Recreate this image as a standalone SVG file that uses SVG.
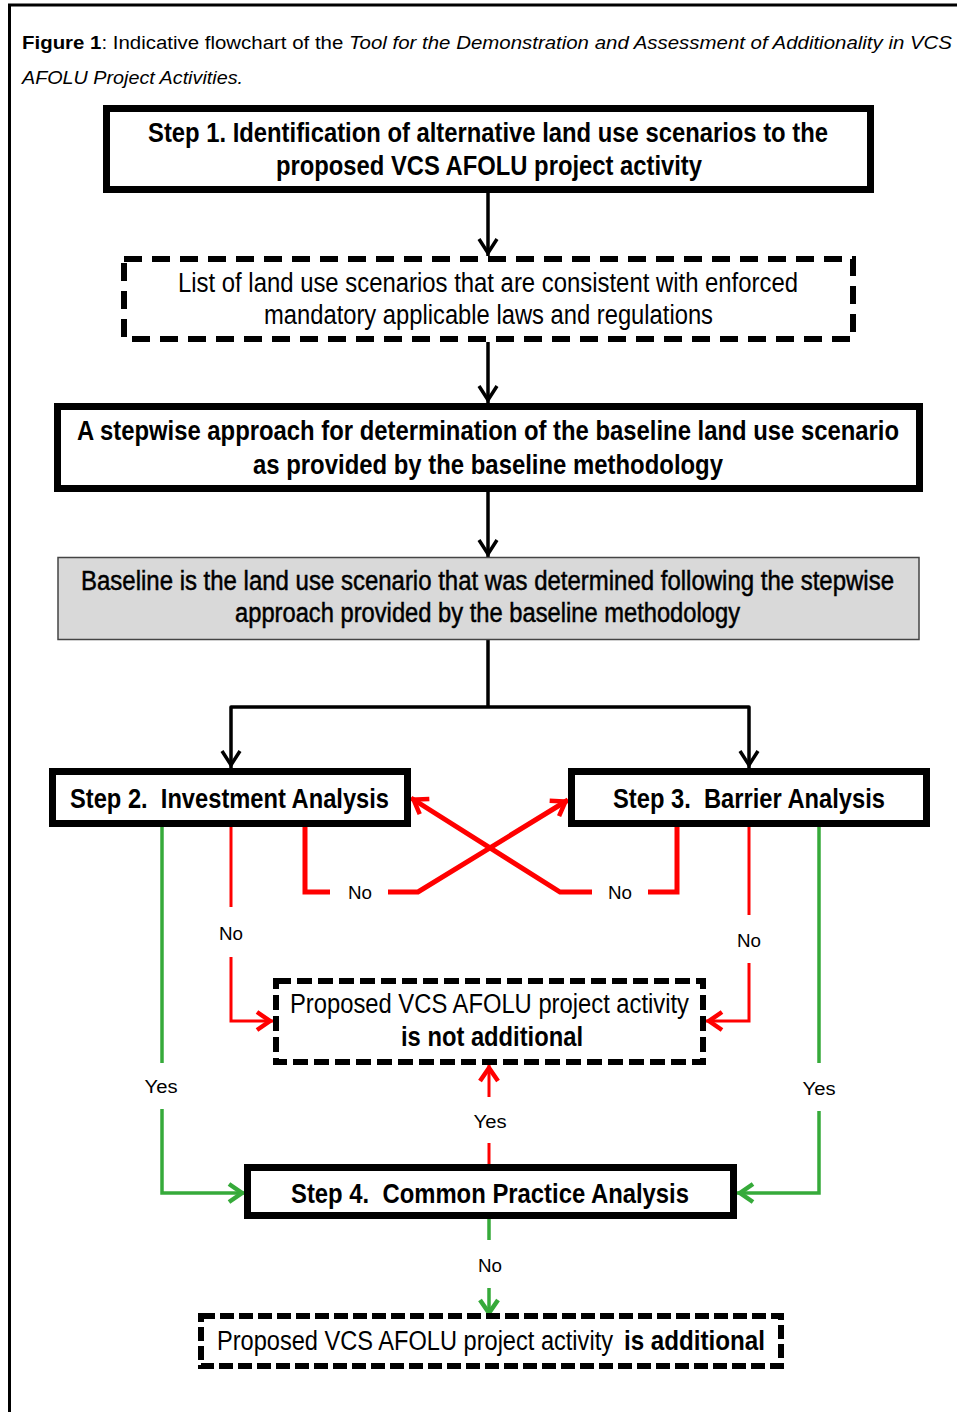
<svg xmlns="http://www.w3.org/2000/svg" width="957" height="1412" viewBox="0 0 957 1412">
<style>
.t{font-family:"Liberation Sans Narrow","Liberation Sans",Arial,sans-serif;fill:#000}
.bx{font-size:27px;text-anchor:middle}
.st{font-size:27px;text-anchor:start}
.b{font-weight:bold}
.lb{font-size:18px;text-anchor:middle}
.solid{fill:#fff;stroke:#000;stroke-width:7}
.dash{fill:#fff;stroke:#000;stroke-width:6}
.k{fill:none;stroke:#000;stroke-width:3.5;stroke-linejoin:round}
.r{fill:none;stroke:#ff0000;stroke-width:5;stroke-linejoin:miter}
.rt{fill:none;stroke:#ff0000;stroke-width:3}
.g{fill:none;stroke:#36aa3a;stroke-width:3.5;stroke-linejoin:miter}
</style>
<defs>
<marker id="ak" viewBox="-20 -12 22 24" markerWidth="22" markerHeight="24" refX="0" refY="0" orient="auto" markerUnits="userSpaceOnUse">
<path d="M-17,-9 L-3,0 L-17,9" fill="none" stroke="#000" stroke-width="3.5"/>
</marker>
<marker id="ar" viewBox="-20 -12 22 24" markerWidth="22" markerHeight="24" refX="0" refY="0" orient="auto" markerUnits="userSpaceOnUse">
<path d="M-16,-9 L-3,0 L-16,9" fill="none" stroke="#ff0000" stroke-width="4.5"/>
</marker>
<marker id="ag" viewBox="-20 -12 22 24" markerWidth="22" markerHeight="24" refX="0" refY="0" orient="auto" markerUnits="userSpaceOnUse">
<path d="M-16,-9 L-3,0 L-16,9" fill="none" stroke="#36aa3a" stroke-width="4.5"/>
</marker>
</defs>
<rect width="957" height="1412" fill="#fff"/>
<g id="frame">
<path d="M9.5,1412 V5 H957" fill="none" stroke="#000" stroke-width="3"/>
</g>
<g id="caption">
<text class="t" x="22" y="49" font-size="18" textLength="930" lengthAdjust="spacingAndGlyphs"><tspan font-weight="bold">Figure 1</tspan>: Indicative flowchart of the <tspan font-style="italic">Tool for the Demonstration and Assessment of Additionality in VCS</tspan></text>
<text class="t" x="22" y="84" font-size="18" font-style="italic" textLength="221" lengthAdjust="spacingAndGlyphs">AFOLU Project Activities.</text>
</g>
<g id="connectors">
<path class="k" d="M488,193 V256" marker-end="url(#ak)"/>
<path class="k" d="M488,342 V403" marker-end="url(#ak)"/>
<path class="k" d="M488,492 V557" marker-end="url(#ak)"/>
<path class="k" d="M488,640 V707"/>
<path class="k" d="M488,707 H231 V768" marker-end="url(#ak)"/>
<path class="k" d="M488,707 H749 V768" marker-end="url(#ak)"/>
<path class="rt" d="M231,827 V907"/>
<path class="rt" d="M231,957 V1021 H273" marker-end="url(#ar)"/>
<path class="rt" d="M749,827 V915"/>
<path class="rt" d="M749,963 V1021 H706" marker-end="url(#ar)"/>
<path class="r" d="M305,827 V892 H330"/>
<path class="r" d="M388,892 H418 L568,800" marker-end="url(#ar)"/>
<path class="r" d="M677,827 V892 H648"/>
<path class="r" d="M592,892 H560 L411,798" marker-end="url(#ar)"/>
<path class="rt" d="M489,1164 V1143"/>
<path class="rt" d="M489,1097 V1065" marker-end="url(#ar)"/>
<path class="g" d="M162,827 V1063"/>
<path class="g" d="M162,1109 V1193 H245" marker-end="url(#ag)"/>
<path class="g" d="M819,827 V1063"/>
<path class="g" d="M819,1111 V1193 H737" marker-end="url(#ag)"/>
<path class="g" d="M489,1219 V1240"/>
<path class="g" d="M489,1288 V1316" marker-end="url(#ag)"/>
</g>
<g id="labels">
<text class="t lb" x="360" y="899" textLength="24" lengthAdjust="spacingAndGlyphs">No</text>
<text class="t lb" x="620" y="899" textLength="24" lengthAdjust="spacingAndGlyphs">No</text>
<text class="t lb" x="231" y="940" textLength="24" lengthAdjust="spacingAndGlyphs">No</text>
<text class="t lb" x="749" y="947" textLength="24" lengthAdjust="spacingAndGlyphs">No</text>
<text class="t lb" x="161" y="1093" textLength="33" lengthAdjust="spacingAndGlyphs">Yes</text>
<text class="t lb" x="819" y="1095" textLength="33" lengthAdjust="spacingAndGlyphs">Yes</text>
<text class="t lb" x="490" y="1128" textLength="33" lengthAdjust="spacingAndGlyphs">Yes</text>
<text class="t lb" x="490" y="1272" textLength="24" lengthAdjust="spacingAndGlyphs">No</text>
</g>
<g id="step1">
<rect class="solid" x="106.5" y="108.5" width="764" height="81"/>
<text class="t bx b" x="488" y="142" textLength="680" lengthAdjust="spacingAndGlyphs">Step 1. Identification of alternative land use scenarios to the</text>
<text class="t bx b" x="489" y="175" textLength="426" lengthAdjust="spacingAndGlyphs">proposed VCS AFOLU project activity</text>
</g>
<g id="scenarios">
<rect class="dash" x="124" y="259" width="729" height="80" stroke-dasharray="18 10"/>
<text class="t bx" x="488" y="292" textLength="620" lengthAdjust="spacingAndGlyphs">List of land use scenarios that are consistent with enforced</text>
<text class="t bx" x="488.5" y="324" textLength="449" lengthAdjust="spacingAndGlyphs">mandatory applicable laws and regulations</text>
</g>
<g id="stepwise">
<rect class="solid" x="57.5" y="406.5" width="862" height="82"/>
<text class="t bx b" x="488" y="440" textLength="822" lengthAdjust="spacingAndGlyphs">A stepwise approach for determination of the baseline land use scenario</text>
<text class="t bx b" x="488" y="474" textLength="470" lengthAdjust="spacingAndGlyphs">as provided by the baseline methodology</text>
</g>
<g id="baseline">
<rect x="58" y="557.5" width="861" height="82" fill="#d9d9d9" stroke="#444" stroke-width="1.5"/>
<text class="t bx" x="487.5" y="590" textLength="813" lengthAdjust="spacingAndGlyphs" stroke="#000" stroke-width="0.5">Baseline is the land use scenario that was determined following the stepwise</text>
<text class="t bx" x="487.5" y="622" textLength="505" lengthAdjust="spacingAndGlyphs" stroke="#000" stroke-width="0.5">approach provided by the baseline methodology</text>
</g>
<g id="step2">
<rect class="solid" x="52.5" y="771.5" width="355" height="52"/>
<text class="t bx b" x="229.5" y="808" font-size="28" xml:space="preserve" textLength="319" lengthAdjust="spacingAndGlyphs">Step 2.  Investment Analysis</text>
</g>
<g id="step3">
<rect class="solid" x="571.5" y="771.5" width="355" height="52"/>
<text class="t bx b" x="749" y="808" font-size="28" xml:space="preserve" textLength="272" lengthAdjust="spacingAndGlyphs">Step 3.  Barrier Analysis</text>
</g>
<g id="notadditional">
<rect class="dash" x="276" y="981" width="427" height="81" stroke-dasharray="15 6"/>
<text class="t bx" x="489.5" y="1013" textLength="399" lengthAdjust="spacingAndGlyphs">Proposed VCS AFOLU project activity</text>
<text class="t bx b" x="492" y="1046" textLength="182" lengthAdjust="spacingAndGlyphs">is not additional</text>
</g>
<g id="step4">
<rect class="solid" x="247.5" y="1167.5" width="486" height="48"/>
<text class="t bx b" x="490" y="1203" font-size="28" xml:space="preserve" textLength="398" lengthAdjust="spacingAndGlyphs">Step 4.  Common Practice Analysis</text>
</g>
<g id="additional">
<rect class="dash" x="201" y="1316" width="580" height="50" stroke-dasharray="14 5"/>
<text class="t st" x="217" y="1350" textLength="396" lengthAdjust="spacingAndGlyphs">Proposed VCS AFOLU project activity</text>
<text class="t st b" x="624" y="1350" textLength="141" lengthAdjust="spacingAndGlyphs">is additional</text>
</g>
</svg>
